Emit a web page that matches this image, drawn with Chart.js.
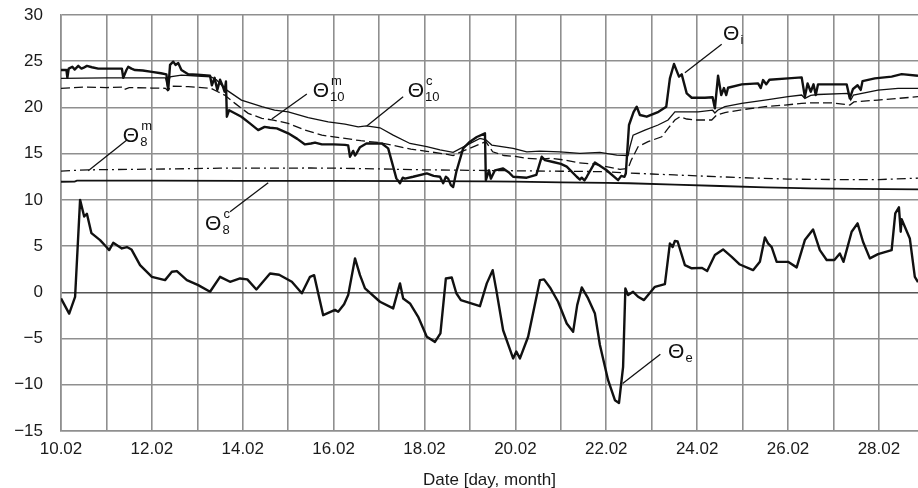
<!DOCTYPE html>
<html>
<head>
<meta charset="utf-8">
<script src="https://cdn.jsdelivr.net/npm/chart.js@4.4.1/dist/chart.umd.min.js"></script>
<style>
  html, body { margin: 0; padding: 0; background: #fff; }
  #wrap { width: 918px; height: 488px; position: relative; }
</style>
</head>
<body>
<div id="wrap"><canvas id="chart"></canvas></div>
<script>
// x = day of February (decimal), y = temperature [°C]
const thetaI = [
  [10.0, 24.05], [10.12, 24.05], [10.14, 23.2], [10.17, 24.2], [10.25, 24.4], [10.3, 24.1], [10.38, 24.5],
  [10.45, 24.2], [10.5, 24.3], [10.57, 24.5], [10.68, 24.35], [10.82, 24.2], [11.0, 24.2], [11.2, 24.2],
  [11.34, 24.2], [11.37, 23.2], [11.44, 24.05], [11.48, 24.4], [11.55, 24.2], [11.63, 24.05], [11.8, 24.0],
  [12.0, 23.85], [12.2, 23.7], [12.32, 23.58], [12.36, 21.9], [12.4, 24.6], [12.47, 24.95], [12.52, 24.6],
  [12.58, 24.8], [12.65, 24.05], [12.8, 23.6], [13.0, 23.55], [13.28, 23.43], [13.32, 22.4], [13.38, 23.2],
  [13.44, 21.9], [13.5, 23.0], [13.56, 22.3], [13.6, 21.7], [13.63, 22.8], [13.65, 19.0], [13.7, 19.7],
  [13.97, 19.0], [14.15, 18.3], [14.34, 17.55], [14.48, 17.9], [14.6, 17.8], [14.75, 17.73], [15.0, 17.2],
  [15.2, 16.6], [15.37, 16.0], [15.5, 16.1], [15.59, 16.2], [15.74, 16.0], [16.0, 16.0], [16.25, 15.95],
  [16.32, 15.9], [16.36, 14.67], [16.43, 15.3], [16.47, 14.8], [16.5, 15.0], [16.58, 15.7], [16.72, 16.1],
  [17.06, 16.1], [17.2, 15.57], [17.31, 13.6], [17.38, 12.33], [17.46, 11.8], [17.52, 12.4], [17.57, 12.3],
  [17.75, 12.5], [18.05, 12.87], [18.2, 12.6], [18.34, 12.5], [18.41, 11.8], [18.47, 12.5], [18.52, 12.3],
  [18.58, 11.6], [18.63, 11.4], [18.7, 13.04], [18.85, 15.57], [19.0, 16.3], [19.15, 16.8], [19.33, 17.2],
  [19.35, 12.14], [19.42, 13.2], [19.46, 12.3], [19.55, 13.2], [19.73, 13.4], [19.85, 13.0], [19.95, 12.5],
  [20.25, 12.4], [20.46, 12.7], [20.58, 14.67], [20.65, 14.3], [20.83, 14.1], [21.0, 13.9], [21.13, 13.6],
  [21.35, 12.5], [21.42, 12.2], [21.46, 12.4], [21.52, 12.1], [21.57, 12.5], [21.75, 14.05], [22.0, 13.23],
  [22.26, 12.14], [22.33, 12.6], [22.4, 12.5], [22.43, 12.85], [22.5, 18.1], [22.6, 19.5], [22.67, 20.08],
  [22.74, 19.18], [22.89, 19.0], [23.15, 19.53], [23.32, 20.08], [23.4, 23.15], [23.49, 24.7], [23.6, 23.33],
  [23.66, 23.58], [23.77, 21.52], [23.88, 21.05], [24.17, 21.05], [24.34, 21.1], [24.39, 19.9], [24.46, 23.43],
  [24.53, 21.34], [24.59, 22.1], [24.64, 21.34], [24.68, 22.13], [24.98, 22.5], [25.34, 22.6], [25.4, 22.1],
  [25.45, 22.96], [25.52, 22.5], [25.59, 23.0], [26.0, 23.15], [26.3, 23.25], [26.37, 21.16], [26.43, 22.6],
  [26.5, 21.7], [26.56, 22.5], [26.61, 21.34], [26.66, 22.5], [27.29, 22.5], [27.36, 20.98], [27.43, 22.0],
  [27.53, 22.4], [27.6, 21.9], [27.64, 22.85], [27.91, 23.15], [28.28, 23.33], [28.5, 23.6], [28.86, 23.43]
];

const theta10c = [
  [10.0, 23.15], [11.0, 23.2], [12.3, 23.2], [12.34, 22.3], [12.4, 23.3], [12.65, 23.5], [13.0, 23.4],
  [13.3, 23.3], [13.42, 23.0], [13.64, 21.9], [13.97, 20.8], [14.42, 20.08], [14.7, 19.7], [15.0, 19.53],
  [15.44, 18.9], [15.88, 18.45], [16.25, 18.2], [16.54, 17.9], [16.72, 18.0], [17.02, 17.8], [17.31, 17.0],
  [17.68, 16.1], [18.05, 15.75], [18.34, 15.4], [18.63, 15.14], [18.93, 15.93], [19.22, 16.65], [19.35, 16.5],
  [19.48, 15.93], [19.95, 15.57], [20.25, 15.2], [20.54, 15.27], [20.98, 15.2], [21.42, 15.03], [21.86, 15.14],
  [22.23, 14.85], [22.48, 14.8], [22.52, 15.75], [22.59, 17.0], [22.85, 17.55], [23.14, 18.1], [23.36, 18.64],
  [23.51, 19.53], [23.73, 19.53], [24.02, 19.53], [24.34, 19.7], [24.39, 19.4], [24.45, 19.7], [24.61, 20.08],
  [24.98, 20.44], [25.49, 20.8], [26.0, 21.16], [26.3, 21.34], [26.37, 20.98], [26.5, 21.3], [26.66, 21.4],
  [27.32, 21.52], [27.38, 20.8], [27.44, 21.34], [27.98, 21.88], [28.42, 22.07], [28.86, 22.07]
];

const theta10m = [
  [10.0, 22.07], [10.5, 22.2], [11.0, 22.15], [11.37, 22.2], [11.4, 21.95], [11.5, 22.15], [12.0, 22.1],
  [12.3, 22.07], [12.35, 21.8], [12.42, 22.3], [12.8, 22.25], [13.3, 22.07], [13.45, 21.7], [13.6, 21.34],
  [13.83, 20.44], [14.12, 19.36], [14.42, 18.82], [14.67, 18.64], [15.0, 18.28], [15.37, 17.55], [15.74, 17.0],
  [16.25, 16.65], [16.6, 16.4], [17.0, 16.2], [17.3, 15.9], [17.7, 15.5], [18.05, 15.25], [18.4, 15.0],
  [18.63, 14.8], [18.85, 15.3], [19.2, 16.0], [19.35, 16.3], [19.5, 15.2], [19.75, 14.8], [20.0, 14.7],
  [20.25, 14.5], [20.55, 14.4], [20.8, 14.5], [21.1, 14.3], [21.4, 14.0], [21.7, 13.9], [22.0, 13.6],
  [22.3, 13.3], [22.48, 13.4], [22.55, 14.3], [22.7, 15.75], [22.92, 16.3], [23.22, 16.83], [23.36, 17.73],
  [23.51, 18.64], [23.62, 19.0], [23.77, 18.75], [23.95, 18.64], [24.32, 18.64], [24.43, 19.18], [24.61, 19.45],
  [25.05, 19.8], [25.49, 20.08], [25.93, 20.26], [26.3, 20.44], [26.5, 20.5], [26.96, 20.5], [27.36, 20.26],
  [27.45, 20.6], [27.98, 20.8], [28.86, 21.16]
];

const theta8m = [
  [10.0, 13.12], [10.6, 13.25], [11.5, 13.3], [12.5, 13.35], [13.5, 13.43], [14.5, 13.43], [15.5, 13.45],
  [16.2, 13.42], [17.0, 13.35], [18.0, 13.25], [19.0, 13.2], [20.0, 13.15], [21.0, 13.1], [22.0, 13.05],
  [22.5, 12.9], [23.0, 12.8], [23.5, 12.7], [24.0, 12.6], [25.0, 12.4], [26.0, 12.25], [27.0, 12.2],
  [28.0, 12.2], [28.86, 12.35]
];

const theta8c = [
  [10.0, 11.96], [10.3, 11.98], [10.35, 12.08], [12.0, 12.08], [14.0, 12.05], [16.0, 12.05], [18.0, 12.02],
  [19.35, 12.0], [20.0, 11.98], [21.0, 11.9], [22.0, 11.85], [22.5, 11.8], [23.5, 11.65], [24.5, 11.5],
  [25.5, 11.35], [26.5, 11.25], [27.5, 11.2], [28.86, 11.13]
];

const thetaE = [
  [10.0, -0.66], [10.18, -2.3], [10.31, -0.5], [10.42, 10.0], [10.51, 8.2], [10.57, 8.5], [10.67, 6.4],
  [10.86, 5.65], [11.0, 4.9], [11.06, 4.57], [11.15, 5.36], [11.34, 4.75], [11.45, 4.9], [11.55, 4.64],
  [11.74, 2.94], [12.0, 1.68], [12.29, 1.32], [12.44, 2.22], [12.55, 2.3], [12.77, 1.32], [13.02, 0.78],
  [13.28, 0.06], [13.5, 1.68], [13.72, 1.14], [13.94, 1.5], [14.1, 1.4], [14.3, 0.31], [14.6, 2.04],
  [14.8, 1.9], [15.08, 1.14], [15.3, -0.1], [15.48, 1.68], [15.57, 1.86], [15.77, -2.47], [16.03, -1.9],
  [16.1, -2.1], [16.23, -1.3], [16.32, -0.3], [16.47, 3.67], [16.58, 1.86], [16.69, 0.42], [17.02, -1.02],
  [17.31, -1.74], [17.46, 0.97], [17.53, -0.66], [17.68, -1.2], [17.86, -2.65], [18.05, -4.8], [18.23, -5.36],
  [18.35, -4.45], [18.47, 1.5], [18.6, 1.6], [18.7, -0.1], [18.8, -0.84], [19.22, -1.5], [19.37, 0.97],
  [19.5, 2.4], [19.58, 0.24], [19.73, -4.1], [19.95, -7.15], [20.02, -6.4], [20.1, -7.15], [20.28, -4.8],
  [20.54, 1.32], [20.63, 1.4], [20.76, 0.53], [20.94, -1.02], [21.13, -3.37], [21.27, -4.27], [21.36, -1.38],
  [21.46, 0.53], [21.6, -0.66], [21.75, -2.3], [21.86, -5.7], [22.04, -9.5], [22.19, -11.67], [22.28, -11.96],
  [22.37, -8.06], [22.42, 0.42], [22.48, -0.3], [22.59, 0.06], [22.7, -0.48], [22.83, -0.84], [23.07, 0.6],
  [23.29, 0.89], [23.4, 5.3], [23.46, 4.9], [23.51, 5.57], [23.57, 5.5], [23.73, 2.94], [23.88, 2.6],
  [24.1, 2.65], [24.22, 2.3], [24.39, 4.03], [24.57, 4.64], [24.76, 3.84], [24.94, 3.01], [25.23, 2.4],
  [25.38, 3.3], [25.49, 5.94], [25.56, 5.3], [25.64, 4.9], [25.75, 3.3], [26.0, 3.3], [26.19, 2.7],
  [26.37, 5.65], [26.55, 6.8], [26.7, 4.57], [26.85, 3.5], [27.02, 3.5], [27.14, 4.2], [27.22, 3.3],
  [27.4, 6.55], [27.53, 7.46], [27.65, 5.47], [27.8, 3.67], [27.98, 4.13], [28.28, 4.57], [28.36, 8.54],
  [28.44, 9.2], [28.48, 6.55], [28.5, 7.9], [28.68, 5.83], [28.79, 1.68], [28.86, 1.1]
];

const xMin = 10, xMax = 28.86;
const yMin = -15, yMax = 30, yStep = 5;
const xTitle = 'Date [day, month]';
const monthSuffix = '.02';

// curve labels: text anchor (left, baseline) and leader line, in data coords
const curveNotes = [
  { sub: 'i',  sup: '',  at: [24.57, 27.29], from: [23.73, 23.76], to: [24.54, 26.83] },
  { sub: '10', sup: 'm', at: [15.54, 21.16], from: [14.64, 18.74], to: [15.41, 21.45] },
  { sub: '10', sup: 'c', at: [17.63, 21.13], from: [16.73, 17.99], to: [17.53, 21.16] },
  { sub: '8',  sup: 'm', at: [11.36, 16.25], from: [10.6, 13.15],  to: [11.45, 16.47] },
  { sub: '8',  sup: 'c', at: [13.17, 6.73],  from: [14.56, 11.85], to: [13.72, 8.71] },
  { sub: 'e',  sup: '',  at: [23.36, -7.12], from: [22.36, -9.86], to: [23.19, -6.69] }
];

const FONT = "'Liberation Sans', Arial, sans-serif";
const INK = '#111';

const toPts = arr => arr.map(([x, y]) => ({ x, y }));

const curveLabels = {
  id: 'curveLabels',
  afterDatasetsDraw(chart) {
    const { ctx, scales: { x, y } } = chart;
    ctx.save();
    ctx.strokeStyle = INK;
    ctx.fillStyle = INK;
    ctx.lineWidth = 1.3;
    curveNotes.forEach(n => {
      ctx.beginPath();
      ctx.moveTo(x.getPixelForValue(n.from[0]), y.getPixelForValue(n.from[1]));
      ctx.lineTo(x.getPixelForValue(n.to[0]), y.getPixelForValue(n.to[1]));
      ctx.stroke();

      const tx = x.getPixelForValue(n.at[0]);
      const ty = y.getPixelForValue(n.at[1]);
      ctx.textAlign = 'left';
      ctx.textBaseline = 'alphabetic';
      ctx.font = `21px ${FONT}`;
      ctx.fillText('Θ', tx, ty);
      const w = ctx.measureText('Θ').width;
      ctx.font = `13px ${FONT}`;
      if (n.sub) ctx.fillText(n.sub, tx + w + 1, ty + 4);
      if (n.sup) ctx.fillText(n.sup, tx + w + 2, ty - 12);
    });
    ctx.restore();
  }
};

const thick = { borderColor: INK, borderWidth: 2.4, borderJoinStyle: 'round' };
const thin = { borderColor: INK, borderWidth: 1.3 };

new Chart(document.getElementById('chart'), {
  type: 'line',
  data: {
    datasets: [
      { label: 'Θi', data: toPts(thetaI), ...thick },
      { label: 'Θ10c', data: toPts(theta10c), ...thin },
      { label: 'Θ10m', data: toPts(theta10m), ...thin, borderDash: [9, 4] },
      { label: 'Θ8m', data: toPts(theta8m), ...thin, borderDash: [9, 4, 2, 4] },
      { label: 'Θ8c', data: toPts(theta8c), borderColor: INK, borderWidth: 1.8 },
      { label: 'Θe', data: toPts(thetaE), ...thick }
    ]
  },
  options: {
    responsive: true,
    maintainAspectRatio: false,
    animation: false,
    layout: { padding: { top: 15, right: 0, left: 0, bottom: 0 } },
    elements: { point: { radius: 0 }, line: { tension: 0, fill: false } },
    plugins: { legend: { display: false }, tooltip: { enabled: false } },
    scales: {
      x: {
        type: 'linear',
        min: xMin,
        max: xMax,
        afterFit: s => { s.height = 57; },
        ticks: {
          stepSize: 1,
          includeBounds: false,
          autoSkip: false,
          maxRotation: 0,
          padding: 8,
          color: '#1a1a1a',
          font: { family: FONT, size: 17 },
          callback: v => (Number.isInteger(v) && v % 2 === 0) ? String(v).padStart(2, '0') + monthSuffix : ''
        },
        grid: { color: '#8f8f8f', lineWidth: 1.6, drawTicks: false },
        border: { color: '#8f8f8f', width: 1.6 },
        title: {
          display: true,
          text: xTitle,
          color: '#1a1a1a',
          font: { family: FONT, size: 17 },
          padding: { top: 0, bottom: -3 }
        }
      },
      y: {
        min: yMin,
        max: yMax,
        afterFit: s => { s.width = 61; s.paddingTop = 0; s.paddingBottom = 0; },
        ticks: {
          stepSize: yStep,
          padding: 18,
          color: '#1a1a1a',
          font: { family: FONT, size: 17 },
          callback: v => v < 0 ? '\u2212' + Math.abs(v) : String(v)
        },
        grid: {
          drawTicks: false,
          lineWidth: 1.6,
          color: c => c.tick && c.tick.value === 0 ? '#555' : '#8f8f8f'
        },
        border: { color: '#8f8f8f', width: 1.6 }
      }
    }
  },
  plugins: [curveLabels]
});
</script>
</body>
</html>
